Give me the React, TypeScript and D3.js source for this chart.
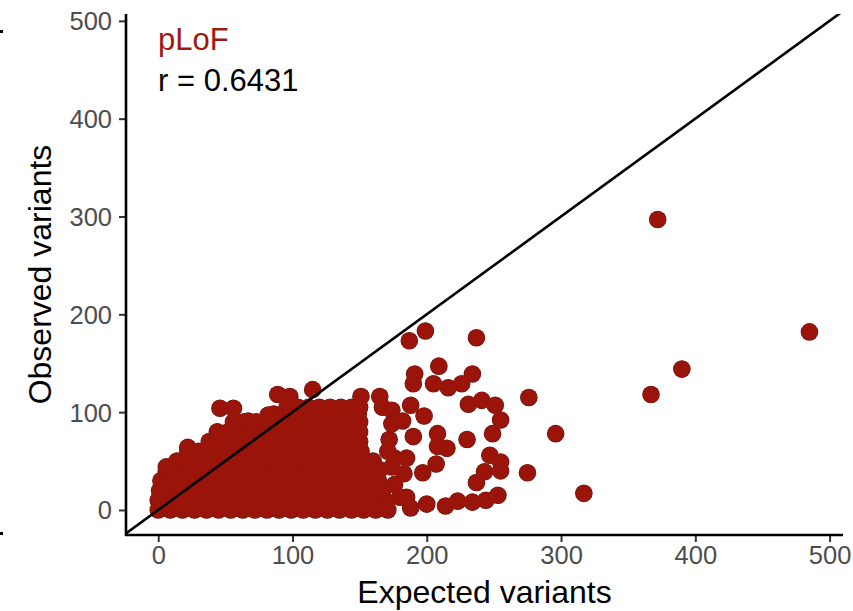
import React, { useEffect, useRef } from 'react';
import * as d3 from 'd3';

const W = 853;
const H = 611;

const xTicks = [0, 100, 200, 300, 400, 500];
const yTicks = [0, 100, 200, 300, 400, 500];
const xTitle = 'Expected variants';
const yTitle = 'Observed variants';
const panelLabel = 'pLoF';
const corrLabel = 'r = 0.6431';

// dense core of genes: [observed, expected values in that band]
const blobRows: [number, number[]][] = [
  [0, [0, 9, 18, 27, 36, 45, 54, 63, 72, 81, 90, 99, 108, 117, 126, 135, 144, 153, 162, 171]],
  [10, [0, 8, 17, 26, 35, 44, 53, 62, 71, 80, 89, 98, 107, 116, 125, 134, 143, 152, 161, 169]],
  [20, [1, 9, 18, 27, 36, 45, 54, 63, 72, 81, 90, 99, 108, 117, 126, 135, 144, 153, 161, 167]],
  [30, [2, 10, 19, 28, 37, 46, 55, 64, 73, 82, 91, 100, 109, 118, 127, 136, 145, 154, 164]],
  [40, [6, 14, 23, 32, 41, 50, 59, 68, 77, 86, 95, 104, 113, 122, 131, 140, 149, 157]],
  [50, [14, 22, 31, 40, 49, 58, 67, 76, 85, 94, 103, 112, 121, 130, 139, 146, 151]],
  [60, [22, 30, 39, 48, 57, 66, 75, 84, 93, 102, 111, 120, 129, 138, 146, 151]],
  [70, [38, 45, 53, 61, 69, 77, 85, 94, 103, 112, 121, 130, 139, 146, 150]],
  [80, [44, 52, 61, 70, 79, 88, 97, 106, 115, 124, 133, 142, 150]],
  [90, [56, 64, 73, 82, 91, 100, 109, 118, 127, 136, 145, 150]],
  [98, [86, 94, 102, 110, 118, 126, 134, 142, 149]],
  [105, [96, 104, 112, 120, 128, 136, 144, 150]],
];

const edgePoints: [number, number][] = [
  [6, 44], [22, 64], [35, 60], [47, 76], [46, 104], [56, 104], [67, 91], [82, 97],
  [89, 118], [98, 116], [115, 123], [151, 116], [165, 116], [167, 105], [174, 102],
  [172, 72], [176, 53], [165, 41], [174, 44], [176, 26], [180, 13], [170, 3], [188, 2],
  [171, 60], [160, 50], [174, 88],
];

const outlierPoints: [number, number][] = [
  [372, 297], [485, 182], [390, 144], [367, 118], [296, 78], [317, 17], [276, 115], [275, 38],
  [187, 173], [199, 183], [237, 176],
  [191, 139], [190, 129], [209, 147], [205, 129], [216, 125], [226, 129], [234, 139],
  [231, 108], [241, 112], [251, 107], [255, 92], [249, 78], [188, 107], [198, 96], [182, 91],
  [190, 75], [208, 78], [208, 65], [215, 63], [230, 72], [185, 53], [197, 38], [207, 47],
  [183, 37], [247, 56], [255, 49], [255, 40], [243, 39], [237, 28], [185, 13], [200, 6],
  [214, 4], [223, 9], [234, 8], [244, 10], [253, 15],
];

export default function App() {
  const ref = useRef<SVGSVGElement>(null);

  useEffect(() => {
    const svg = d3.select(ref.current);
    svg.selectAll('*').remove();

    const x = d3.scaleLinear().domain([-24, 510]).range([126, 843]);
    const y = d3.scaleLinear().domain([-25.6, 507]).range([535, 14]);
    const font = '"Liberation Sans", Arial, sans-serif';

    const pts: [number, number][] = blobRows
      .flatMap(([o, es]) => es.map((e) => [e, o] as [number, number]))
      .concat(edgePoints, outlierPoints);

    svg.append('clipPath').attr('id', 'panel')
      .append('rect')
      .attr('x', 126).attr('y', 14)
      .attr('width', 843 - 126).attr('height', 535 - 14);

    // rim layer then fill layer so only the outer edge gets the dark outline
    svg.append('g')
      .selectAll('circle')
      .data(pts)
      .join('circle')
      .attr('cx', (d) => x(d[0]))
      .attr('cy', (d) => y(d[1]))
      .attr('r', 8.8)
      .attr('fill', '#5a1a14');
    svg.append('g')
      .selectAll('circle')
      .data(pts)
      .join('circle')
      .attr('cx', (d) => x(d[0]))
      .attr('cy', (d) => y(d[1]))
      .attr('r', 8.3)
      .attr('fill', '#9a1409');

    // identity line
    svg.append('line')
      .attr('clip-path', 'url(#panel)')
      .attr('x1', x(-24)).attr('y1', y(-24))
      .attr('x2', x(510)).attr('y2', y(510))
      .attr('stroke', '#000')
      .attr('stroke-width', 2.6);

    const xAxis = svg.append('g')
      .attr('transform', 'translate(0,535)')
      .call(d3.axisBottom(x).tickValues(xTicks).tickSize(7).tickFormat(d3.format('d')));
    const yAxis = svg.append('g')
      .attr('transform', 'translate(126,0)')
      .call(d3.axisLeft(y).tickValues(yTicks).tickSize(7).tickFormat(d3.format('d')));

    [xAxis, yAxis].forEach((g) => {
      g.select('.domain').remove();
      g.selectAll('.tick line').attr('stroke', '#333').attr('stroke-width', 2);
      g.selectAll('.tick text')
        .attr('fill', '#4d4d4d')
        .attr('font-size', 25.5)
        .attr('font-family', font);
    });
    xAxis.selectAll('.tick text').attr('y', 11).attr('dy', '0.71em');
    yAxis.selectAll('.tick text').attr('x', -14).attr('dy', '0.35em');

    svg.append('line')
      .attr('x1', 126).attr('x2', 126).attr('y1', 14).attr('y2', 536)
      .attr('stroke', '#000').attr('stroke-width', 2.6);
    svg.append('line')
      .attr('x1', 125).attr('x2', 843).attr('y1', 535).attr('y2', 535)
      .attr('stroke', '#000').attr('stroke-width', 2.6);

    svg.append('text')
      .attr('x', 484.5).attr('y', 603)
      .attr('text-anchor', 'middle')
      .attr('font-family', font).attr('font-size', 32)
      .attr('fill', '#000')
      .text(xTitle);
    svg.append('text')
      .attr('transform', 'translate(51,274.5) rotate(-90)')
      .attr('text-anchor', 'middle')
      .attr('font-family', font).attr('font-size', 32)
      .attr('fill', '#000')
      .text(yTitle);

    svg.append('text')
      .attr('x', 158).attr('y', 50)
      .attr('font-family', font).attr('font-size', 31)
      .attr('fill', '#9e1a10')
      .text(panelLabel);
    svg.append('text')
      .attr('x', 158).attr('y', 91)
      .attr('font-family', font).attr('font-size', 31)
      .attr('fill', '#000')
      .text(corrLabel);

    // stray tick stubs from neighbouring panel at the left edge
    svg.append('rect').attr('x', 0).attr('y', 30).attr('width', 3).attr('height', 3).attr('fill', '#000');
    svg.append('rect').attr('x', 0).attr('y', 532).attr('width', 3).attr('height', 3).attr('fill', '#000');
  }, []);

  return (
    <svg
      ref={ref}
      width={W}
      height={H}
      style={{ position: 'absolute', left: 0, top: 0, background: '#fff' }}
    />
  );
}
